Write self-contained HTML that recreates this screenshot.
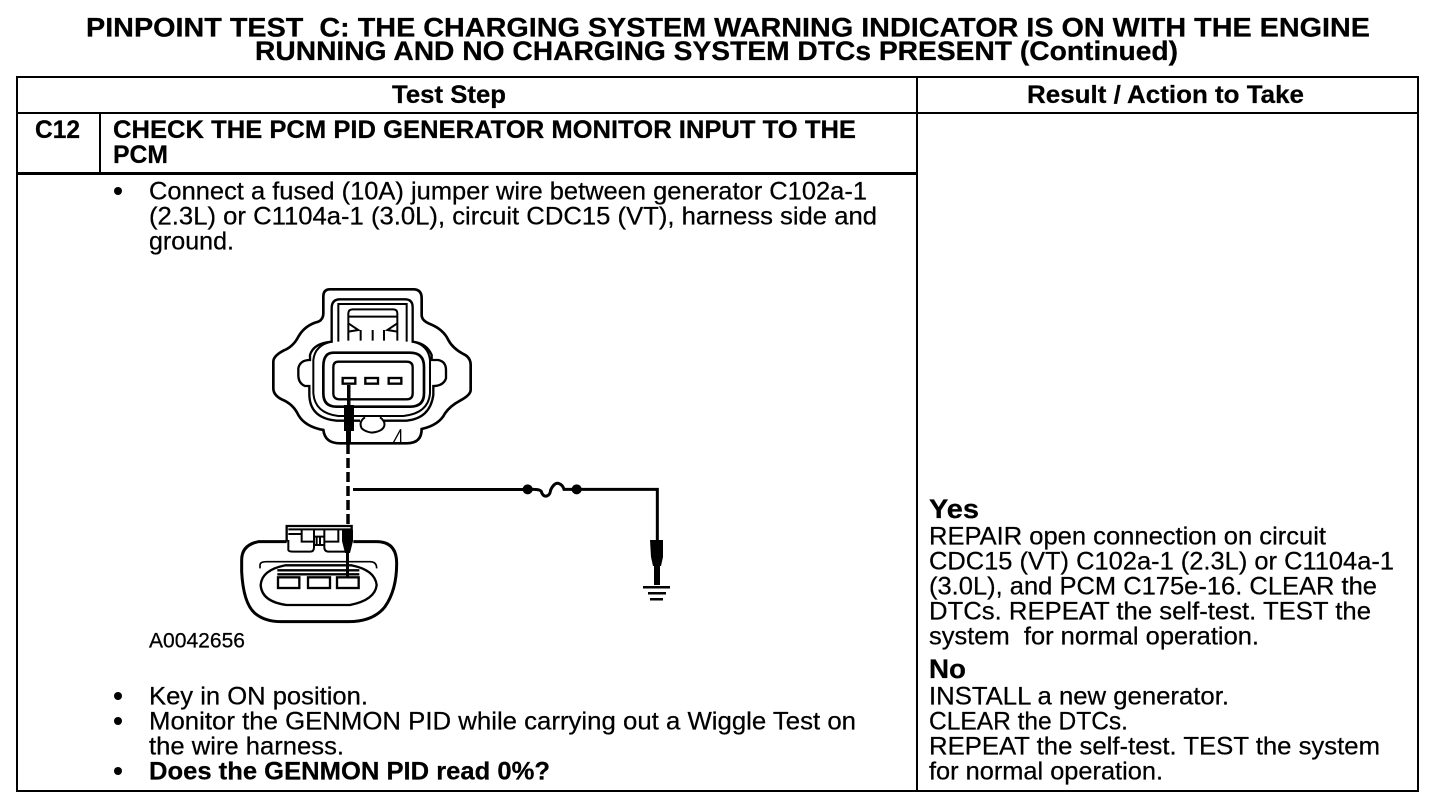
<!DOCTYPE html>
<html><head><meta charset="utf-8"><style>
html,body{margin:0;padding:0;background:#fff}
svg{display:block}
text{font-family:"Liberation Sans",sans-serif;fill:#000;font-size:25px;stroke:#000;stroke-width:.25px;white-space:pre}
.b{font-weight:bold}
.h{font-size:27px;font-weight:bold}
</style></head><body>
<svg width="1456" height="808" viewBox="0 0 1456 808" xmlns="http://www.w3.org/2000/svg">
<rect width="1456" height="808" fill="#fff"/>
<text class="h" x="86" y="36.500" textLength="1284" lengthAdjust="spacingAndGlyphs" xml:space="preserve">PINPOINT TEST  C: THE CHARGING SYSTEM WARNING INDICATOR IS ON WITH THE ENGINE</text>
<text class="h" x="255" y="60" textLength="923" lengthAdjust="spacingAndGlyphs">RUNNING AND NO CHARGING SYSTEM DTCs PRESENT (Continued)</text>

<g stroke="#000" stroke-width="2" fill="none">
<rect x="17" y="77" width="1401" height="714"/>
<path d="M17 113H1418M917 77V791M100 113V173"/>
<path d="M17 173.500H917" stroke-width="3"/>
</g>

<text class="b" x="392" y="103" textLength="114" lengthAdjust="spacingAndGlyphs">Test Step</text>
<text class="b" x="1027" y="103" textLength="277" lengthAdjust="spacingAndGlyphs">Result / Action to Take</text>
<text class="b" x="35" y="138" textLength="45" lengthAdjust="spacingAndGlyphs">C12</text>
<text class="b" x="113" y="138" textLength="743" lengthAdjust="spacingAndGlyphs">CHECK THE PCM PID GENERATOR MONITOR INPUT TO THE</text>
<text class="b" x="113" y="163" textLength="55" lengthAdjust="spacingAndGlyphs">PCM</text>

<g fill="#000"><circle cx="118" cy="191" r="4"/><circle cx="118" cy="696" r="4"/><circle cx="118" cy="721" r="4"/><circle cx="118" cy="771" r="4"/></g>
<text x="149" y="199.500" textLength="718" lengthAdjust="spacingAndGlyphs">Connect a fused (10A) jumper wire between generator C102a-1</text>
<text x="149" y="224.500" textLength="728" lengthAdjust="spacingAndGlyphs">(2.3L) or C1104a-1 (3.0L), circuit CDC15 (VT), harness side and</text>
<text x="149" y="249.500" textLength="85" lengthAdjust="spacingAndGlyphs">ground.</text>

<text x="149" y="647.500" style="font-size:21px" textLength="96" lengthAdjust="spacingAndGlyphs">A0042656</text>

<text x="149" y="704.500" textLength="219" lengthAdjust="spacingAndGlyphs">Key in ON position.</text>
<text x="149" y="729.500" textLength="707" lengthAdjust="spacingAndGlyphs">Monitor the GENMON PID while carrying out a Wiggle Test on</text>
<text x="149" y="754.500" textLength="195" lengthAdjust="spacingAndGlyphs">the wire harness.</text>
<text class="b" x="149" y="779.500" textLength="401" lengthAdjust="spacingAndGlyphs">Does the GENMON PID read 0%?</text>

<text class="h" x="929" y="518" textLength="50" lengthAdjust="spacingAndGlyphs">Yes</text>
<text x="929" y="544.500" textLength="397" lengthAdjust="spacingAndGlyphs">REPAIR open connection on circuit</text>
<text x="929" y="569.500" textLength="465" lengthAdjust="spacingAndGlyphs">CDC15 (VT) C102a-1 (2.3L) or C1104a-1</text>
<text x="929" y="594.500" textLength="448" lengthAdjust="spacingAndGlyphs">(3.0L), and PCM C175e-16. CLEAR the</text>
<text x="929" y="619.500" textLength="442" lengthAdjust="spacingAndGlyphs">DTCs. REPEAT the self-test. TEST the</text>
<text x="929" y="644.500" textLength="330" lengthAdjust="spacingAndGlyphs" xml:space="preserve">system  for normal operation.</text>
<text class="h" x="929" y="678" textLength="37" lengthAdjust="spacingAndGlyphs">No</text>
<text x="929" y="704.500" textLength="300" lengthAdjust="spacingAndGlyphs">INSTALL a new generator.</text>
<text x="929" y="729.500" textLength="199" lengthAdjust="spacingAndGlyphs">CLEAR the DTCs.</text>
<text x="929" y="754.500" textLength="451" lengthAdjust="spacingAndGlyphs">REPEAT the self-test. TEST the system</text>
<text x="929" y="779.500" textLength="234" lengthAdjust="spacingAndGlyphs">for normal operation.</text>

<!-- upper connector (zoom coordinates) -->
<g transform="translate(230 280) scale(0.33333)" fill="none" stroke="#000" stroke-width="5">
<path stroke-width="8" d="M300 28H550Q575 28 575 55V105Q575 122 600 132Q640 148 655 180Q668 205 700 222Q722 232 722 255V330Q722 345 690 362Q660 378 645 400Q628 435 575 447Q575 490 530 490H330Q285 490 280 450Q225 440 205 405Q190 372 155 358Q130 345 130 325V245Q130 228 160 212Q190 200 205 170Q225 135 265 125Q280 118 280 100V50Q280 28 300 28Z"/>
<path stroke-width="7" d="M390 422H320Q240 415 238 345V318H225Q205 310 205 285V265Q210 240 240 240V225Q250 190 305 185V85Q305 58 330 58H525Q548 58 548 82V185Q590 190 605 225V240H625Q648 245 648 270V295Q640 318 610 318V345Q600 415 530 422H460"/>
<path stroke-width="6" d="M325 185V72H530V185M355 110H502M355 182V100Q355 88 368 88H490Q502 88 502 100V182M355 130L385 150L355 155M502 130L472 150L502 155M392 150V182M428 150V182M462 150V182"/>
<path stroke-width="6" d="M305 185Q255 195 250 240V340Q255 400 325 408H520Q595 400 600 340V240Q595 195 548 185"/>
<path stroke-width="8" d="M310 218H540Q582 218 582 260V340Q582 380 540 380H320Q280 380 280 340V260Q280 218 310 218Z"/>
<path stroke-width="7" d="M325 245H530Q548 245 548 262V340Q548 358 530 358H330Q310 358 310 340V262Q310 245 325 245Z"/>
<rect x="338" y="294" width="38" height="17" stroke-width="7"/>
<rect x="406" y="294" width="38" height="17" stroke-width="7"/>
<rect x="476" y="294" width="38" height="17" stroke-width="7"/>
<path stroke-width="6" d="M405 412Q385 425 395 445Q405 455 425 458Q455 455 462 440Q468 425 450 412"/>
<path stroke-width="4" d="M490 488L512 448V488"/>
</g>
<g fill="#000" stroke="none">
<rect x="347" y="385" width="3.500" height="25"/>
<rect x="344" y="405" width="10" height="26"/>
<rect x="346" y="430" width="5" height="14"/>
</g>
<path d="M348 444V528" stroke="#000" stroke-width="3.500" fill="none" stroke-dasharray="10 4"/>
<path d="M353 489.500H523" stroke="#000" stroke-width="3" fill="none"/>

<!-- lower connector -->
<g transform="translate(230 460) scale(0.33333)" fill="none" stroke="#000" stroke-width="5">
<path stroke-width="9" d="M170 245H85Q35 255 35 300V335Q40 430 75 460Q105 485 155 485H355Q430 485 465 440Q500 390 500 310Q500 245 440 245H370"/>
<path stroke-width="7" d="M170 245V198H365V245"/>
<path stroke-width="6" d="M175 208H365M175 240V270Q175 275 190 275H240Q252 275 252 262V208M215 208V245H252M283 208V262Q283 275 298 275H345M283 245H325V208M175 222H215M255 230H285M260 228V255M270 228V255M255 255H285"/>
<path stroke-width="5" d="M90 325V315Q90 305 110 305H420Q440 305 440 325"/>
<path stroke-width="7" d="M165 316H365Q435 330 440 375Q435 420 360 435H170Q95 425 92 375Q95 330 165 316Z"/>
<path stroke-width="7" d="M142 331H388M142 343H388"/>
<rect x="144" y="352" width="64" height="32" stroke-width="7"/>
<rect x="234" y="352" width="66" height="32" stroke-width="7"/>
<rect x="321" y="352" width="65" height="32" stroke-width="7"/>
</g>
<g fill="#000" stroke="none">
<path d="M342 530H353V541L350 553H345L342 541Z"/>
<rect x="346" y="552" width="3" height="25"/>
</g>

<!-- fuse and ground (zoom coordinates) -->
<g transform="translate(480 470) scale(0.33333)" fill="none" stroke="#000" stroke-width="9">
<path d="M130 58H160Q185 58 185 68Q190 80 200 78Q210 76 212 60Q222 38 235 40Q248 44 252 58H300"/>
<circle cx="143" cy="58" r="15" fill="#000" stroke="none"/>
<circle cx="290" cy="58" r="15" fill="#000" stroke="none"/>
<path d="M300 58H532V212"/>
</g>
<g fill="#000" stroke="none">
<path d="M650 540H663V557L661 566H653L651 557Z"/>
<path d="M654 565H660V585H654Z"/>
<rect x="643" y="586" width="27" height="2.500"/>
<rect x="648" y="592" width="18" height="2.500"/>
<rect x="650" y="598" width="13" height="2.500"/>
</g>
</svg>
</body></html>
